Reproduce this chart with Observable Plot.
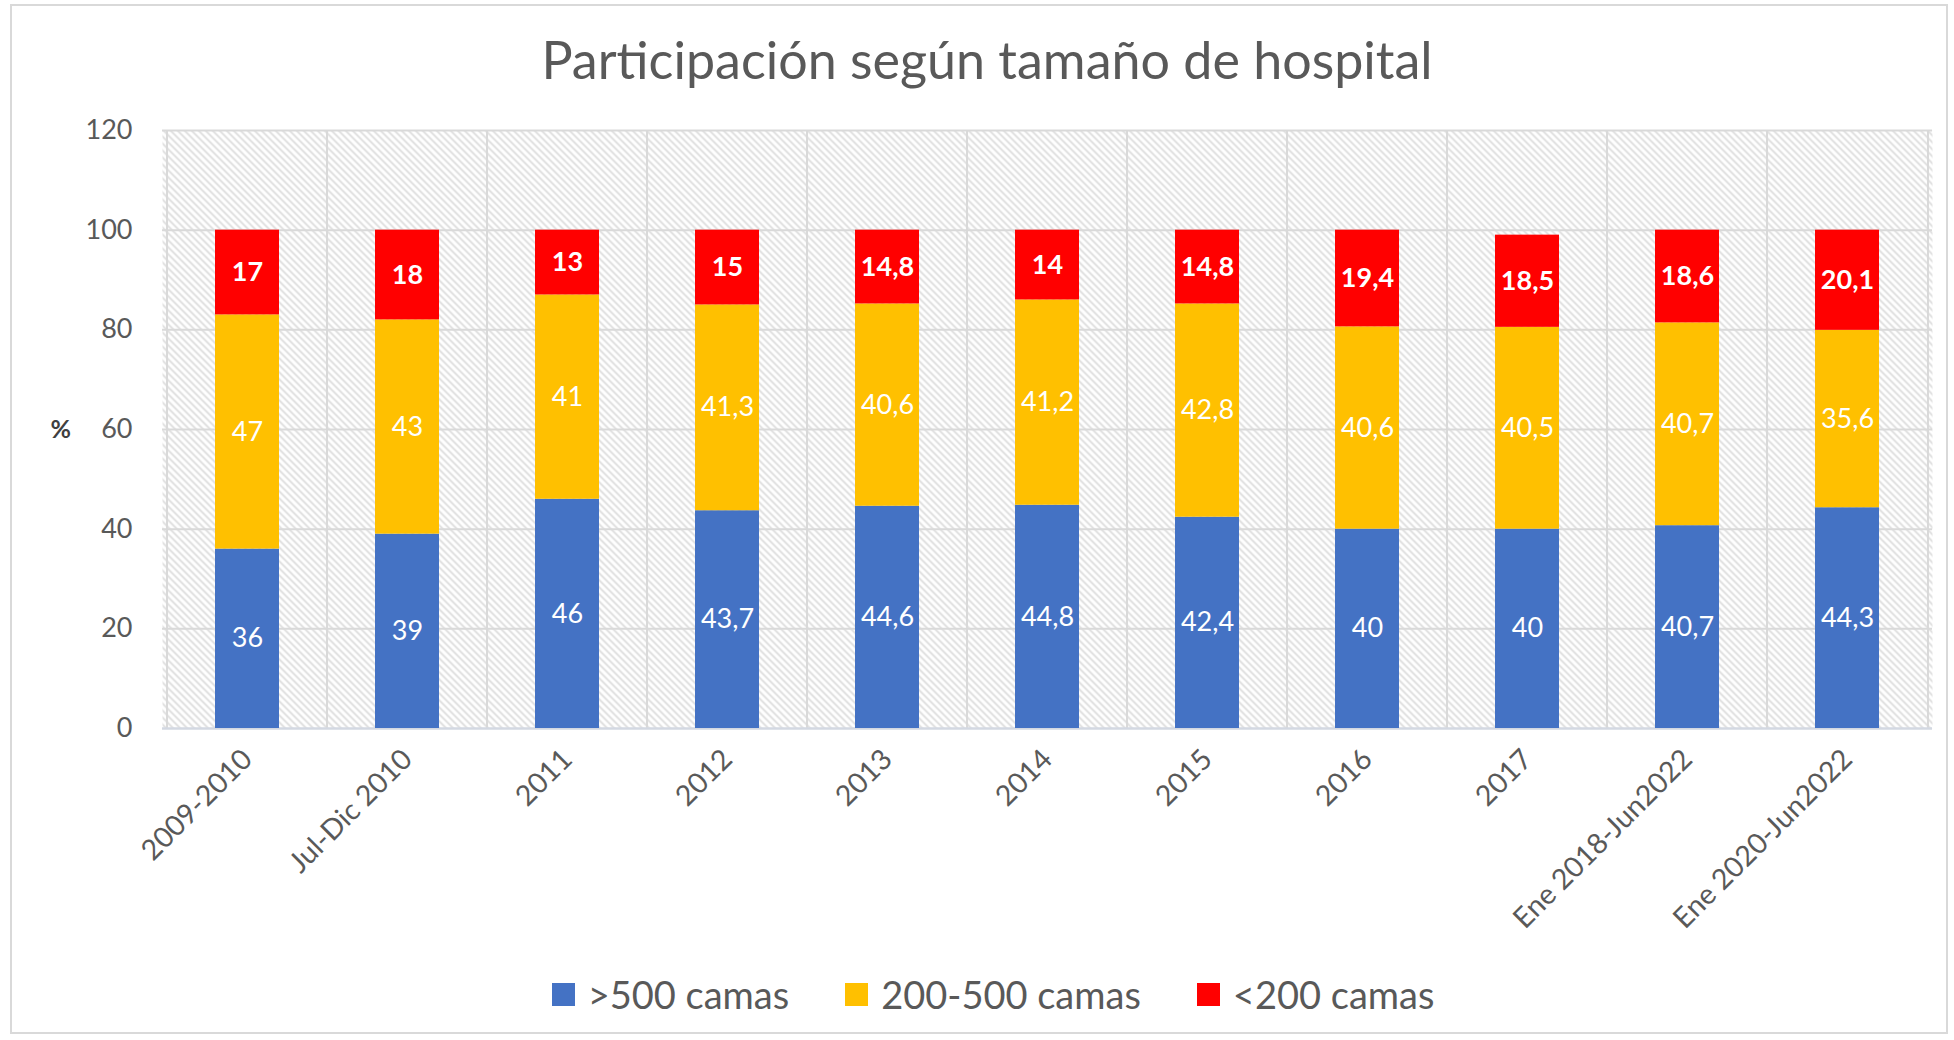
<!DOCTYPE html>
<html>
<head>
<meta charset="utf-8">
<script src="https://cdn.jsdelivr.net/npm/d3@7"></script>
<script src="https://cdn.jsdelivr.net/npm/@observablehq/plot@0.6"></script>
<style>
  html, body { margin: 0; padding: 0; background: #fff; }
  body { width: 1954px; height: 1040px; position: relative; overflow: hidden; font-family: Lato, sans-serif; }
  #border { position: absolute; left: 10px; top: 4px; width: 1938px; height: 1030px; border: 2px solid #d9d9d9; box-sizing: border-box; }
  #title { position: absolute; left: 10px; width: 1954px; top: 27px; text-align: center; font-size: 52px; color: #595959; line-height: 64px; }
  #chart { position: absolute; left: 0; top: 100px; }
  #legend { position: absolute; left: 16px; width: 1954px; top: 969px; display: flex; justify-content: center; align-items: center; gap: 0; font-size: 38px; color: #595959; line-height: 50px; }
  .item { display: flex; align-items: center; margin: 0 28px; }
  .sw { width: 23px; height: 23px; margin-right: 13px; }
</style>
</head>
<body>
<div id="border"></div>
<div id="title">Participación según tamaño de hospital</div>
<div id="chart"></div>
<div id="legend"></div>
<script>
const categories = ["2009-2010", "Jul-Dic 2010", "2011", "2012", "2013", "2014", "2015", "2016", "2017", "Ene 2018-Jun2022", "Ene 2020-Jun2022"];
const seriesNames = [">500 camas", "200-500 camas", "<200 camas"];
const seriesColors = ["#4472C4", "#FFC000", "#FF0000"];
const over500 = [36, 39, 46, 43.7, 44.6, 44.8, 42.4, 40, 40, 40.7, 44.3];
const between200and500 = [47, 43, 41, 41.3, 40.6, 41.2, 42.8, 40.6, 40.5, 40.7, 35.6];
const under200 = [17, 18, 13, 15, 14.8, 14, 14.8, 19.4, 18.5, 18.6, 20.1];
const yTicks = [0, 20, 40, 60, 80, 100, 120];

const seriesValues = [over500, between200and500, under200];
const data = categories.flatMap((cat, i) =>
  seriesNames.map((s, k) => ({cat, series: s, value: seriesValues[k][i]}))
);
const fmt = v => String(v).replace(".", ",");

const W = 1954, H = 840;
const mL = 162, mR = 22, mT = 30, mB = 212;
const step = (W - mL - mR) / categories.length;
const grid = "#d9d9d9";
const txt = "#595959";

const chart = Plot.plot({
  width: W, height: H,
  marginLeft: mL, marginRight: mR, marginTop: mT, marginBottom: mB,
  style: {fontFamily: "Lato, sans-serif", background: "transparent", overflow: "visible"},
  x: {type: "band", domain: categories, paddingInner: 0.6, paddingOuter: 0.3, axis: null},
  y: {domain: [0, 120], axis: null},
  color: {domain: seriesNames, range: seriesColors},
  marks: [
    Plot.frame({fill: "url(#hatch)", stroke: null}),
    Plot.ruleY(yTicks.filter(t => t > 0), {stroke: grid, strokeWidth: 2}),
    Plot.ruleX(categories, {stroke: grid, strokeWidth: 2, dx: -step / 2}),
    Plot.ruleX(categories.slice(-1), {stroke: grid, strokeWidth: 2, dx: step / 2}),
    Plot.ruleY([0], {stroke: "#d3d8e2", strokeWidth: 2.5}),
    Plot.barY(data, {x: "cat", y: "value", fill: "series", order: seriesNames}),
    Plot.text(data, Plot.stackY({x: "cat", y: "value", z: "series", order: seriesNames,
      text: d => d.series === seriesNames[2] ? null : fmt(d.value),
      fill: "white", fontSize: 27})),
    Plot.text(data, Plot.stackY({x: "cat", y: "value", z: "series", order: seriesNames,
      text: d => d.series === seriesNames[2] ? fmt(d.value) : null,
      fill: "white", fontSize: 27, fontWeight: "bold"})),
    Plot.axisY({ticks: yTicks, tickSize: 0, tickPadding: 30, fontSize: 27, color: txt, label: null}),
    Plot.axisX({tickSize: 0, tickRotate: -45, tickPadding: 26, fontSize: 28.5, color: txt, label: null}),
    Plot.text(["%"], {frameAnchor: "left", dx: -112, fontSize: 25, fontWeight: "bold", fill: "#404040"})
  ]
});

// hatch pattern defs for the plot background
const ns = "http://www.w3.org/2000/svg";
const defs = document.createElementNS(ns, "defs");
defs.innerHTML = `<pattern id="hatch" patternUnits="userSpaceOnUse" width="7" height="7">
  <rect width="7" height="7" fill="#ffffff"/>
  <path d="M0,0 L7,7 M-2,5 L2,9 M5,-2 L9,2" stroke="#dcdcdc" stroke-width="1.8"/>
</pattern>`;
chart.insertBefore(defs, chart.firstChild);
document.getElementById("chart").appendChild(chart);

const legend = document.getElementById("legend");
seriesNames.forEach((s, k) => {
  const item = document.createElement("div");
  item.className = "item";
  const sw = document.createElement("div");
  sw.className = "sw";
  sw.style.background = seriesColors[k];
  const label = document.createElement("span");
  label.textContent = s;
  item.appendChild(sw);
  item.appendChild(label);
  legend.appendChild(item);
});
</script>
</body>
</html>
